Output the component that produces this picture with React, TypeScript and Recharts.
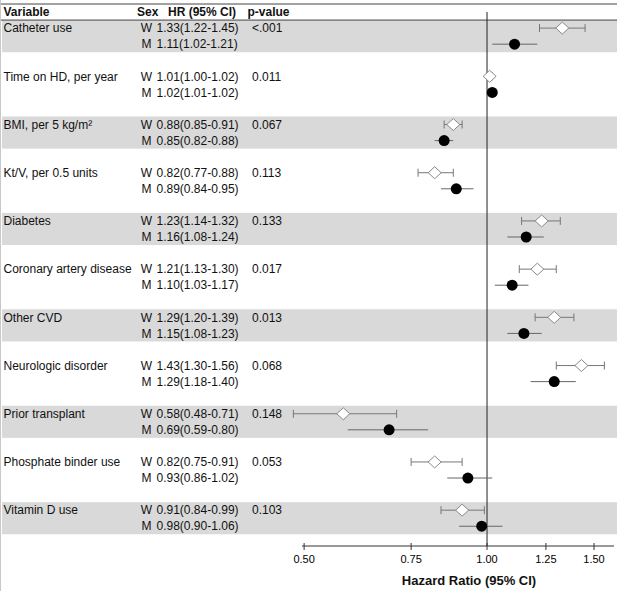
import React from 'react';
import {
  ScatterChart,
  Scatter,
  XAxis,
  YAxis,
  ErrorBar,
  ReferenceArea,
  ReferenceLine,
} from 'recharts';

const variables = [
  'Catheter use',
  'Time on HD, per year',
  'BMI, per 5 kg/m²',
  'Kt/V, per 0.5 units',
  'Diabetes',
  'Coronary artery disease',
  'Other CVD',
  'Neurologic disorder',
  'Prior transplant',
  'Phosphate binder use',
  'Vitamin D use',
];
const pValues = ['<.001', '0.011', '0.067', '0.113', '0.133', '0.017', '0.013', '0.068', '0.148', '0.053', '0.103'];

const hrWomen = [1.33, 1.01, 0.88, 0.82, 1.23, 1.21, 1.29, 1.43, 0.58, 0.82, 0.91];
const loWomen = [1.22, 1.0, 0.85, 0.77, 1.14, 1.13, 1.2, 1.3, 0.48, 0.75, 0.84];
const hiWomen = [1.45, 1.02, 0.91, 0.88, 1.32, 1.3, 1.39, 1.56, 0.71, 0.91, 0.99];

const hrMen = [1.11, 1.02, 0.85, 0.89, 1.16, 1.1, 1.15, 1.29, 0.69, 0.93, 0.98];
const loMen = [1.02, 1.01, 0.82, 0.84, 1.08, 1.03, 1.08, 1.18, 0.59, 0.86, 0.9];
const hiMen = [1.21, 1.02, 0.88, 0.95, 1.24, 1.17, 1.23, 1.4, 0.8, 1.02, 1.06];

const xTicks = [0.5, 0.75, 1, 1.25, 1.5];

const FONT = '"Liberation Sans", Arial, sans-serif';
const TEXT = '#111';
const BAND = '#d9d9d9';
const Y_MAX = 32.73;

// each variable takes 3 rows: W, M, blank
const womenData = variables.map((_, i) => ({
  hr: hrWomen[i],
  row: i * 3 + 0.5,
  err: [hrWomen[i] - loWomen[i], hiWomen[i] - hrWomen[i]],
}));
const menData = variables.map((_, i) => ({
  hr: hrMen[i],
  row: i * 3 + 1.5,
  err: [hrMen[i] - loMen[i], hiMen[i] - hrMen[i]],
}));
const rowTicks = [-0.5, ...variables.flatMap((_, i) => [i * 3 + 0.5, i * 3 + 1.5])];

const fmt = (hr: number, lo: number, hi: number) =>
  `${hr.toFixed(2)}(${lo.toFixed(2)}-${hi.toFixed(2)})`;

function RowTick(props: any) {
  const { y, payload } = props;
  const v = payload.value;
  if (v < 0) {
    return (
      <g fontFamily={FONT} fontSize={12} fontWeight="bold" fill={TEXT}>
        <text x={2.5} y={y} dy="0.35em">Variable</text>
        <text x={136} y={y} dy="0.35em">Sex</text>
        <text x={167} y={y} dy="0.35em">HR (95% CI)</text>
        <text x={246.5} y={y} dy="0.35em">p-value</text>
      </g>
    );
  }
  const i = Math.floor(v / 3);
  const women = v - i * 3 < 1;
  return (
    <g fontFamily={FONT} fontSize={12} fill={TEXT}>
      {women && <text x={2.5} y={y} dy="0.35em">{variables[i]}</text>}
      <text x={145.5} y={y} dy="0.35em" textAnchor="middle">{women ? 'W' : 'M'}</text>
      <text x={155.5} y={y} dy="0.35em">
        {women ? fmt(hrWomen[i], loWomen[i], hiWomen[i]) : fmt(hrMen[i], loMen[i], hiMen[i])}
      </text>
      {women && <text x={251} y={y} dy="0.35em">{pValues[i]}</text>}
    </g>
  );
}

function HrTick(props: any) {
  const { x, y, payload } = props;
  return (
    <g>
      <line x1={x} x2={x} y1={y - 3} y2={y + 4} stroke="#333" />
      <text x={x} y={y + 17} textAnchor="middle" fontFamily={FONT} fontSize={11} fill="#000">
        {payload.value.toFixed(2)}
      </text>
    </g>
  );
}

function AxisTitle(props: any) {
  const { viewBox } = props;
  return (
    <text
      x={viewBox.x + viewBox.width / 2 + 11}
      y={viewBox.y + 39}
      textAnchor="middle"
      fontFamily={FONT}
      fontSize={13}
      fontWeight="bold"
      fill={TEXT}
    >
      Hazard Ratio (95% CI)
    </text>
  );
}

const Diamond = (props: any) => {
  const { cx, cy } = props;
  return (
    <polygon
      points={`${cx - 6.5},${cy} ${cx},${cy - 6} ${cx + 6.5},${cy} ${cx},${cy + 6}`}
      fill="#fff"
      stroke="#888"
    />
  );
};

const Dot = (props: any) => <circle cx={props.cx} cy={props.cy} r={5.5} fill="#000" />;

const fullRule = (p: any) => (
  <line x1={0} x2={616} y1={p.y1} y2={p.y2} stroke="#444" strokeWidth={1} />
);

const band = (p: any) => (
  <rect x={1} y={p.y} width={p.x + p.width + 2} height={p.height} fill={BAND} />
);

export default function App() {
  return (
    <div
      style={{
        position: 'absolute',
        left: 0,
        top: 0,
        width: 618,
        height: 591,
        borderLeft: '1px solid #c8c8c8',
        background: '#fff',
      }}
    >
      <ScatterChart width={618} height={591} margin={{ top: 4, right: 5, bottom: 15, left: 300 }}>
        {variables.map((v, i) =>
          i % 2 === 0 ? (
            <ReferenceArea key={v} y1={i * 3} y2={i * 3 + 2} shape={band} ifOverflow="visible" />
          ) : null
        )}
        <ReferenceLine y={-1} shape={fullRule} ifOverflow="visible" />
        <ReferenceLine y={0} shape={fullRule} ifOverflow="visible" />
        <ReferenceLine
          segment={[
            { x: 1, y: -0.5 },
            { x: 1, y: Y_MAX },
          ]}
          stroke="#222"
          strokeWidth={1}
          ifOverflow="visible"
        />
        <XAxis
          type="number"
          dataKey="hr"
          scale="log"
          domain={[0.496, 1.618]}
          allowDataOverflow
          ticks={xTicks}
          tickSize={0}
          tickMargin={0}
          tickLine={false}
          axisLine={{ stroke: '#333' }}
          tick={<HrTick />}
          height={30}
          label={{ value: 'Hazard Ratio (95% CI)', content: AxisTitle }}
        />
        <YAxis
          type="number"
          dataKey="row"
          domain={[-1, Y_MAX]}
          reversed
          allowDataOverflow
          ticks={rowTicks}
          width={1}
          axisLine={false}
          tickLine={false}
          tick={<RowTick />}
          interval={0}
        />
        <Scatter data={womenData} shape={<Diamond />} isAnimationActive={false}>
          <ErrorBar dataKey="err" direction="x" width={4} stroke="#777" strokeWidth={1} />
        </Scatter>
        <Scatter data={menData} shape={<Dot />} isAnimationActive={false}>
          <ErrorBar dataKey="err" direction="x" width={0} stroke="#666" strokeWidth={1} />
        </Scatter>
      </ScatterChart>
    </div>
  );
}
